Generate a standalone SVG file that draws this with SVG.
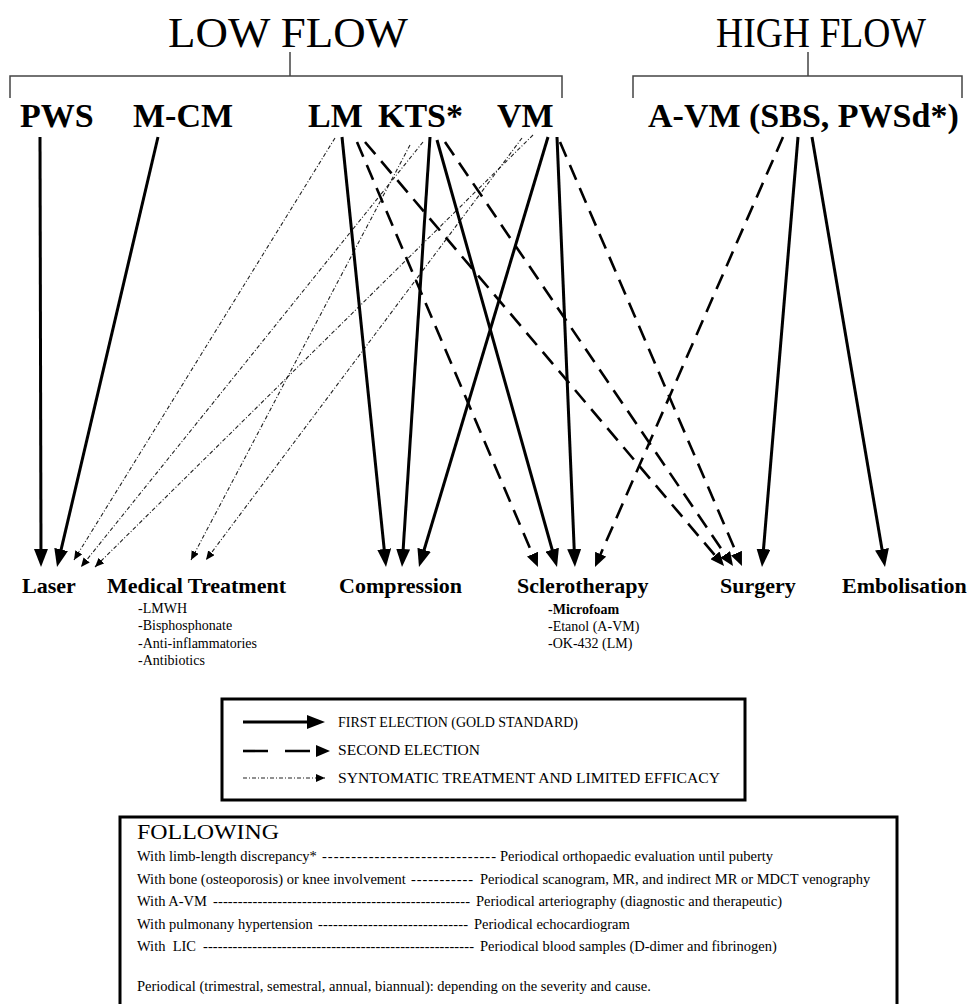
<svg xmlns="http://www.w3.org/2000/svg" width="967" height="1004" viewBox="0 0 967 1004">
<style>
text{font-family:"Liberation Serif","Times New Roman",serif;fill:#000}
.hdr{font-size:42px}
.src{font-size:34px;font-weight:bold}
.dst{font-size:22px;font-weight:bold}
.sub{font-size:14px}
.subb{font-size:14px;font-weight:bold}
.leg{font-size:15px}
.fol{font-size:14.5px}
.br{stroke:#444;stroke-width:1.5;fill:none}
.s{stroke:#000;stroke-width:3;fill:none;marker-end:url(#hs)}
.d{stroke:#000;stroke-width:2.6;fill:none;stroke-dasharray:16 9;marker-end:url(#hd)}
.t{stroke:#222;stroke-width:1.1;fill:none;stroke-dasharray:4 2 1 2;marker-end:url(#ht)}
.box{fill:none;stroke:#000;stroke-width:3}
</style>
<defs>
<marker id="hs" markerUnits="userSpaceOnUse" markerWidth="18" markerHeight="14" refX="12" refY="7" orient="auto"><path d="M0,0 L18,7 L0,14 z" fill="#000"/></marker>
<marker id="hd" markerUnits="userSpaceOnUse" markerWidth="14" markerHeight="12" refX="9" refY="6" orient="auto"><path d="M0,0 L14,6 L0,12 z" fill="#000"/></marker>
<marker id="ht" markerUnits="userSpaceOnUse" markerWidth="9" markerHeight="8" refX="9" refY="4" orient="auto"><path d="M0,0 L9,4 L0,8 z" fill="#000"/></marker>
</defs>
<rect width="967" height="1004" fill="#fff"/>

<g id="low-flow">
<text class="hdr" x="168" y="47" textLength="240" lengthAdjust="spacingAndGlyphs">LOW FLOW</text>
<path class="br" d="M290,52 V76 M10,98 V76 H562 V98"/>
</g>
<g id="high-flow">
<text class="hdr" x="716" y="47" textLength="210" lengthAdjust="spacingAndGlyphs">HIGH FLOW</text>
<path class="br" d="M808,52 V76 M633,98 V76 H962 V98"/>
</g>

<g id="node-pws"><text class="src" x="20" y="127">PWS</text></g>
<g id="node-mcm"><text class="src" x="133" y="127">M-CM</text></g>
<g id="node-lm"><text class="src" x="308" y="127">LM</text></g>
<g id="node-kts"><text class="src" x="378" y="127">KTS*</text></g>
<g id="node-vm"><text class="src" x="497" y="127">VM</text></g>
<g id="node-avm"><text class="src" x="648" y="127">A-VM (SBS, PWSd*)</text></g>

<g id="node-laser"><text class="dst" x="22" y="593">Laser</text></g>
<g id="node-medical">
<text class="dst" x="107" y="593">Medical Treatment</text>
<text class="sub" x="138" y="613">-LMWH</text>
<text class="sub" x="138" y="630">-Bisphosphonate</text>
<text class="sub" x="138" y="648">-Anti-inflammatories</text>
<text class="sub" x="138" y="665">-Antibiotics</text>
</g>
<g id="node-compression"><text class="dst" x="339" y="593">Compression</text></g>
<g id="node-sclerotherapy">
<text class="dst" x="517" y="593">Sclerotherapy</text>
<text class="subb" x="548" y="614">-Microfoam</text>
<text class="sub" x="548" y="631">-Etanol (A-VM)</text>
<text class="sub" x="548" y="648">-OK-432 (LM)</text>
</g>
<g id="node-surgery"><text class="dst" x="720" y="593">Surgery</text></g>
<g id="node-embolisation"><text class="dst" x="842" y="593">Embolisation</text></g>

<g id="connectors">
<line class="t" x1="335" y1="138" x2="74" y2="560"/>
<line class="t" x1="410" y1="145" x2="191" y2="560"/>
<line class="t" x1="423" y1="142" x2="81" y2="567"/>
<line class="t" x1="522" y1="138" x2="206" y2="560"/>
<line class="t" x1="533" y1="135" x2="95" y2="567"/>

<line class="d" x1="357" y1="142" x2="536.0" y2="562.4"/>
<line class="d" x1="365" y1="142" x2="720.8" y2="562.2"/>
<line class="d" x1="445" y1="142" x2="730.2" y2="561.9"/>
<line class="d" x1="560" y1="142" x2="740.0" y2="561.4"/>
<line class="d" x1="783" y1="137" x2="597.0" y2="562.4"/>

<line class="s" x1="40" y1="137" x2="41" y2="561"/>
<line class="s" x1="158" y1="137" x2="58.4" y2="561.2"/>
<line class="s" x1="342" y1="137" x2="385.4" y2="561"/>
<line class="s" x1="430" y1="137" x2="402.4" y2="561"/>
<line class="s" x1="548" y1="137" x2="420.7" y2="561.3"/>
<line class="s" x1="437" y1="140" x2="555.4" y2="561.2"/>
<line class="s" x1="557" y1="137" x2="574.7" y2="561"/>
<line class="s" x1="798" y1="137" x2="762.5" y2="561"/>
<line class="s" x1="812" y1="137" x2="884" y2="561.1"/>
</g>

<g id="legend">
<rect class="box" x="222" y="699" width="523" height="101"/>
<line class="s" x1="243" y1="722" x2="319" y2="722"/>
<line class="d" x1="243" y1="751" x2="325" y2="751" style="stroke-dasharray:25 17"/>
<line class="t" x1="243" y1="778" x2="325" y2="778"/>
<text class="leg" x="338" y="727" textLength="240" lengthAdjust="spacingAndGlyphs">FIRST ELECTION (GOLD STANDARD)</text>
<text class="leg" x="338" y="755" textLength="142" lengthAdjust="spacingAndGlyphs">SECOND ELECTION</text>
<text class="leg" x="338" y="783" textLength="382" lengthAdjust="spacingAndGlyphs">SYNTOMATIC TREATMENT AND LIMITED EFFICACY</text>
</g>

<g id="following">
<rect class="box" x="120" y="817" width="777" height="200"/>
<text x="137" y="839" style="font-size:22px" textLength="142" lengthAdjust="spacingAndGlyphs">FOLLOWING</text>
<text class="fol" x="137" y="861">With limb-length discrepancy*</text>
<text class="fol" x="322" y="861" textLength="174" lengthAdjust="spacing">------------------------------</text>
<text class="fol" x="500" y="861">Periodical orthopaedic evaluation until puberty</text>
<text class="fol" x="137" y="884">With bone (osteoporosis) or knee involvement</text>
<text class="fol" x="411" y="884" textLength="62" lengthAdjust="spacing">-----------</text>
<text class="fol" x="480" y="884">Periodical scanogram, MR, and indirect MR or MDCT venography</text>
<text class="fol" x="137" y="906">With A-VM</text>
<text class="fol" x="213" y="906" textLength="257" lengthAdjust="spacing">----------------------------------------------------</text>
<text class="fol" x="476" y="906">Periodical arteriography (diagnostic and therapeutic)</text>
<text class="fol" x="137" y="929">With pulmonany hypertension</text>
<text class="fol" x="318" y="929" textLength="150" lengthAdjust="spacing">------------------------------</text>
<text class="fol" x="474" y="929">Periodical echocardiogram</text>
<text class="fol" x="137" y="951" xml:space="preserve">With  LIC</text>
<text class="fol" x="203" y="951" textLength="271" lengthAdjust="spacing">-------------------------------------------------------</text>
<text class="fol" x="480" y="951">Periodical blood samples (D-dimer and fibrinogen)</text>
<text class="fol" x="137" y="991">Periodical (trimestral, semestral, annual, biannual): depending on the severity and cause.</text>
</g>
</svg>
